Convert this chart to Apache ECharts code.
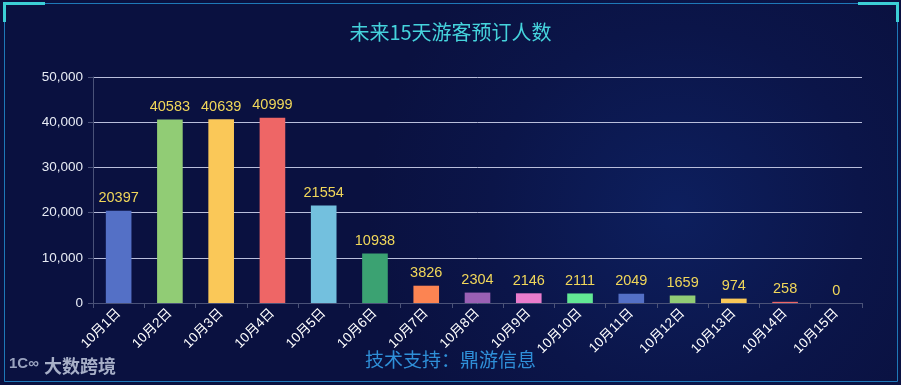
<!DOCTYPE html>
<html>
<head>
<meta charset="utf-8">
<script src="https://cdn.jsdelivr.net/npm/echarts@6/dist/echarts.min.js"></script>
<style>
html,body{margin:0;padding:0;background:#0b1242;}
#c{width:901px;height:385px;}
</style>
</head>
<body>
<div id="c"></div>
<script>
var categories = ['10月1日','10月2日','10月3日','10月4日','10月5日','10月6日','10月7日','10月8日','10月9日','10月10日','10月11日','10月12日','10月13日','10月14日','10月15日'];
var bookings = [20397, 40583, 40639, 40999, 21554, 10938, 3826, 2304, 2146, 2111, 2049, 1659, 974, 258, 0];
var yTicks = [0, 10000, 20000, 30000, 40000, 50000];
var palette = ['#5470c6','#91cc75','#fac858','#ee6666','#73c0de','#3ba272','#fc8452','#9a60b4','#ea7ccc','#62e894'];

var chart = echarts.init(document.getElementById('c'), null, {renderer:'canvas'});
var frame = '#1e78b8', accent = '#3ccfd6';
chart.setOption({
  backgroundColor: new echarts.graphic.RadialGradient(0.75, 0.55, 0.8, [
    {offset:0, color:'#0d1f5e'}, {offset:0.6, color:'#0b1549'}, {offset:1, color:'#0a1140'}
  ]),
  title: {
    text: '未来15天游客预订人数',
    left: 'center', top: 17,
    textStyle: {color:'#45d3dc', fontSize:20, fontWeight:'normal', fontFamily:'Noto Sans CJK SC'}
  },
  grid: {left:93, right:39, top:77, bottom:82},
  xAxis: {
    type:'category', data: categories,
    axisLine:{lineStyle:{color:'#4a5278'}},
    axisTick:{show:true, lineStyle:{color:'#4a5278'}},
    axisLabel:{color:'#ffffff', rotate:45, fontSize:13.5, fontFamily:'Liberation Sans, Noto Sans CJK SC', margin:8, interval:0}
  },
  yAxis: {
    type:'value', min:0, max:50000, interval:10000,
    axisLine:{show:true, lineStyle:{color:'#4a5278'}},
    axisTick:{show:true, lineStyle:{color:'#4a5278'}},
    axisLabel:{color:'#e8ecf5', fontSize:13.5, fontFamily:'Liberation Sans', margin:10,
      formatter:function(v){ return yTicks.indexOf(v) >= 0 ? v.toLocaleString('en-US') : ''; }},
    splitLine:{lineStyle:{color:'#b9bedb', width:1}}
  },
  series: [{
    type:'bar',
    barWidth:'50%',
    data: bookings.map(function(v,i){ return {value:v, itemStyle:{color: palette[i % palette.length]}}; }),
    label:{show:true, position:'top', color:'#f1d75a', fontSize:14.5, fontFamily:'Liberation Sans', distance:5}
  }],
  graphic: [
    {type:'rect', shape:{x:4.5, y:3.5, width:893, height:378}, style:{fill:null, stroke:frame, lineWidth:1}, silent:true},
    {type:'rect', shape:{x:3, y:2, width:42, height:3}, style:{fill:accent}},
    {type:'rect', shape:{x:3, y:2, width:3, height:20}, style:{fill:accent}},
    {type:'rect', shape:{x:858, y:2, width:41, height:3}, style:{fill:accent}},
    {type:'rect', shape:{x:896, y:2, width:3, height:20}, style:{fill:accent}},
    {type:'text', left:'center', top:350, style:{text:'技术支持：鼎游信息', fill:'#2f8fd8', fontSize:19, fontFamily:'Noto Sans CJK SC'}},
    {type:'text', left:9, top:356, style:{text:'1C\u221E', fill:'#9aa3bf', fontSize:15, fontWeight:'bold', fontFamily:'Liberation Sans'}},
    {type:'text', left:44, top:357, style:{text:'大数跨境', fill:'#a7afc7', fontSize:18, fontWeight:'bold', fontFamily:'Noto Sans CJK SC'}}
  ]
});
</script>
</body>
</html>
